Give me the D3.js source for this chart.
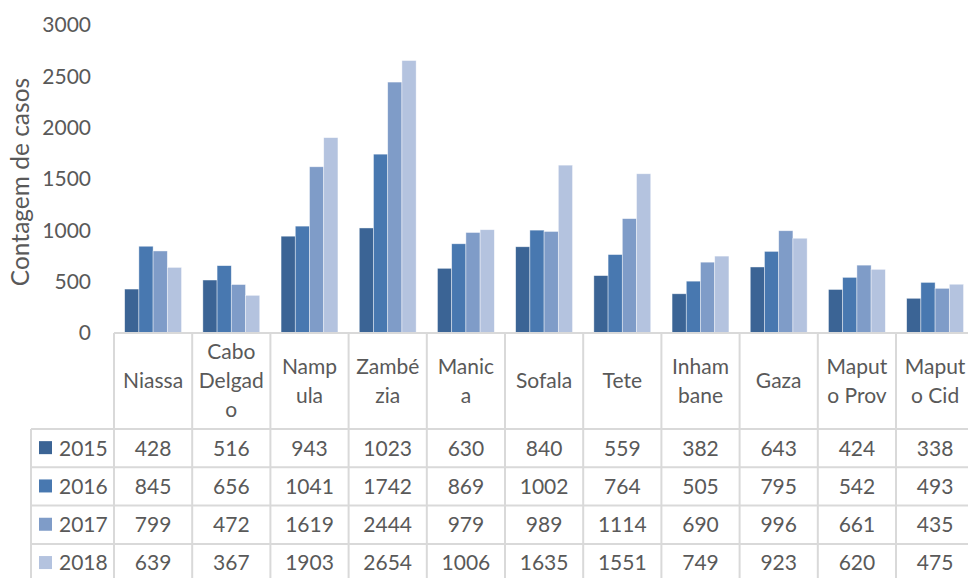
<!DOCTYPE html>
<html>
<head>
<meta charset="utf-8">
<script src="https://cdn.jsdelivr.net/npm/d3@7"></script>
<style>
  body { margin: 0; background: #fff; }
  svg { display: block; font-family: Lato, "Open Sans", sans-serif; }
</style>
</head>
<body>
<div id="chart"></div>
<script>
// provinces, with the line breaks Excel used in the table header
const provinces = ["Niassa", "Cabo Delgado", "Nampula", "Zambézia", "Manica", "Sofala",
  "Tete", "Inhambane", "Gaza", "Maputo Prov", "Maputo Cid"];
const headerLines = [["Niassa"], ["Cabo", "Delgad", "o"], ["Namp", "ula"], ["Zambé", "zia"],
  ["Manic", "a"], ["Sofala"], ["Tete"], ["Inham", "bane"], ["Gaza"], ["Maput", "o Prov"], ["Maput", "o Cid"]];

const years = ["2015", "2016", "2017", "2018"];
const cases2015 = [428, 516, 943, 1023, 630, 840, 559, 382, 643, 424, 338];
const cases2016 = [845, 656, 1041, 1742, 869, 1002, 764, 505, 795, 542, 493];
const cases2017 = [799, 472, 1619, 2444, 979, 989, 1114, 690, 996, 661, 435];
const cases2018 = [639, 367, 1903, 2654, 1006, 1635, 1551, 749, 923, 620, 475];
const yTicks = [0, 500, 1000, 1500, 2000, 2500, 3000];

const seriesValues = [cases2015, cases2016, cases2017, cases2018];
const colors = ["#3b6495", "#4878b0", "#7f9cc8", "#b4c3df"];

const width = 968, height = 578;
const plot = { left: 114, top: 25, bottom: 333 };
const colW = 78.2;
const legendLeft = 31;
const headerBottom = 429, rowH = 38.3;
const gridColor = "#d9d9d9", textColor = "#595959";
const fs = 21;

const svg = d3.select("#chart").append("svg")
    .attr("width", width)
    .attr("height", height);

const x = d3.scaleBand()
    .domain(provinces)
    .range([plot.left, plot.left + colW * provinces.length])
    .paddingInner(0).paddingOuter(0);

const xSub = d3.scaleBand()
    .domain(years)
    .range([0, x.bandwidth()])
    .paddingInner(0).paddingOuter(0.75);

const y = d3.scaleLinear()
    .domain([0, 3000])
    .range([plot.bottom, plot.top]);

// bars
const groups = svg.append("g").selectAll("g")
    .data(years)
    .join("g")
    .attr("fill", (d, i) => colors[i]);

groups.selectAll("rect")
    .data((yr, i) => provinces.map((p, j) => ({ p, yr, v: seriesValues[i][j] })))
    .join("rect")
    .attr("x", d => x(d.p) + xSub(d.yr))
    .attr("y", d => y(d.v))
    .attr("width", xSub.bandwidth())
    .attr("height", d => y(0) - y(d.v))
    .attr("stroke", "#ffffff")
    .attr("stroke-opacity", 0.6)
    .attr("stroke-width", 0.7);

// y axis
const yAxis = svg.append("g")
    .attr("transform", `translate(${plot.left},0)`)
    .call(d3.axisLeft(y).tickValues(yTicks).tickFormat(d3.format("d")).tickSize(0).tickPadding(23));
yAxis.select(".domain").remove();
yAxis.selectAll("text")
    .attr("fill", textColor)
    .attr("font-size", fs)
    .attr("font-family", "Lato, sans-serif");

svg.append("text")
    .attr("transform", `translate(29,${(plot.top + plot.bottom) / 2 + 3}) rotate(-90)`)
    .attr("text-anchor", "middle")
    .attr("fill", textColor)
    .attr("font-size", 24.5)
    .text("Contagem de casos");

// data table grid
const grid = svg.append("g")
    .attr("stroke", gridColor)
    .attr("stroke-width", 2);
const tableRight = x.range()[1];
const tableBottom = headerBottom + rowH * years.length;

// axis line / table top
grid.append("line")
    .attr("x1", plot.left).attr("x2", tableRight)
    .attr("y1", plot.bottom).attr("y2", plot.bottom);

// column borders
grid.selectAll(".col")
    .data(provinces.concat([null]))
    .join("line")
    .attr("x1", (d, i) => plot.left + i * colW)
    .attr("x2", (d, i) => plot.left + i * colW)
    .attr("y1", plot.bottom).attr("y2", tableBottom);

// row borders
grid.selectAll(".row")
    .data(d3.range(years.length + 1))
    .join("line")
    .attr("x1", legendLeft).attr("x2", tableRight)
    .attr("y1", i => headerBottom + i * rowH)
    .attr("y2", i => headerBottom + i * rowH);

grid.append("line")
    .attr("x1", legendLeft).attr("x2", legendLeft)
    .attr("y1", headerBottom).attr("y2", tableBottom);

// header labels
const lineH = 29;
svg.append("g").selectAll("text")
    .data(provinces)
    .join("text")
    .attr("text-anchor", "middle")
    .attr("fill", textColor)
    .attr("font-size", fs)
    .each(function (p, i) {
      const lines = headerLines[i];
      const cx = x(p) + x.bandwidth() / 2;
      const cy = (plot.bottom + headerBottom) / 2;
      d3.select(this).selectAll("tspan")
        .data(lines)
        .join("tspan")
        .attr("x", cx)
        .attr("y", (l, k) => cy + (k - (lines.length - 1) / 2) * lineH)
        .attr("dy", "0.35em")
        .text(l => l);
    });

// table rows: legend key + values
const rows = svg.append("g").selectAll("g")
    .data(years)
    .join("g")
    .attr("transform", (d, i) => `translate(0,${headerBottom + i * rowH + rowH / 2})`);

rows.append("rect")
    .attr("x", 39).attr("y", -7)
    .attr("width", 13).attr("height", 13)
    .attr("fill", (d, i) => colors[i]);

rows.append("text")
    .attr("x", 59).attr("dy", "0.35em")
    .attr("fill", textColor)
    .attr("font-size", fs)
    .text(d => d);

rows.selectAll(".val")
    .data((yr, i) => provinces.map((p, j) => ({ p, v: seriesValues[i][j] })))
    .join("text")
    .attr("x", d => x(d.p) + x.bandwidth() / 2)
    .attr("dy", "0.35em")
    .attr("text-anchor", "middle")
    .attr("fill", textColor)
    .attr("font-size", fs)
    .text(d => d.v);
</script>
</body>
</html>
